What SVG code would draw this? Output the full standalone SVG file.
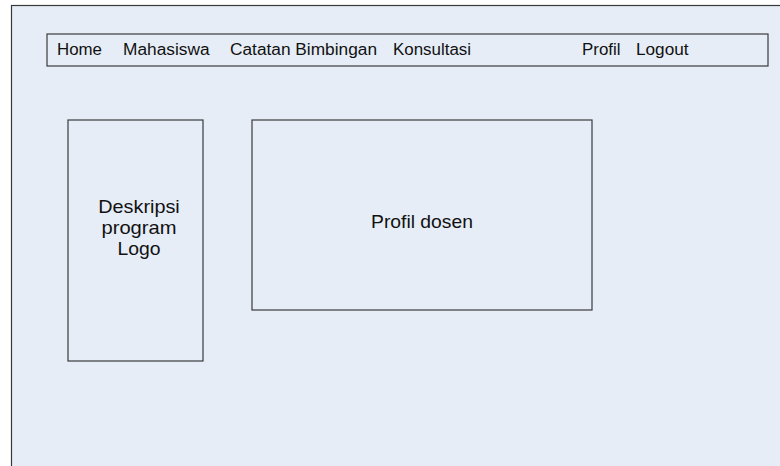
<svg xmlns="http://www.w3.org/2000/svg" width="780" height="466" viewBox="0 0 780 466">
  <style>
    .frame { fill: #E6EDF7; stroke: #3A3A3A; stroke-width: 1.2; }
    .box { fill: #E6EDF7; stroke: #3A3A3A; stroke-width: 1.2; }
    .nav { font-family: "Liberation Sans", Arial, sans-serif; font-size: 16px; fill: #111; }
    .label { font-family: "Liberation Sans", Arial, sans-serif; font-size: 18.5px; fill: #111; text-anchor: middle; }
  </style>
  <rect x="0" y="0" width="780" height="466" fill="#FFFFFF"/>
  <!-- page frame, running off the right and bottom edges -->
  <rect class="frame" x="11.5" y="5.5" width="790" height="480"/>

  <!-- navigation bar -->
  <g id="navbar">
    <rect class="box" x="47" y="34" width="721" height="32"/>
    <text class="nav" x="57" y="55" textLength="45" lengthAdjust="spacingAndGlyphs">Home</text>
    <text class="nav" x="123" y="55" textLength="86.5" lengthAdjust="spacingAndGlyphs">Mahasiswa</text>
    <text class="nav" x="230" y="55" textLength="147" lengthAdjust="spacingAndGlyphs">Catatan Bimbingan</text>
    <text class="nav" x="393" y="55" textLength="78" lengthAdjust="spacingAndGlyphs">Konsultasi</text>
    <text class="nav" x="582" y="55" textLength="38.5" lengthAdjust="spacingAndGlyphs">Profil</text>
    <text class="nav" x="636" y="55" textLength="52.5" lengthAdjust="spacingAndGlyphs">Logout</text>
  </g>

  <!-- left panel -->
  <g id="deskripsi">
    <rect class="box" x="68" y="120" width="135" height="241"/>
    <text class="label" x="139" y="213" textLength="81.5" lengthAdjust="spacingAndGlyphs">Deskripsi</text>
    <text class="label" x="139" y="234" textLength="75" lengthAdjust="spacingAndGlyphs">program</text>
    <text class="label" x="139" y="255" textLength="43" lengthAdjust="spacingAndGlyphs">Logo</text>
  </g>

  <!-- main panel -->
  <g id="profil-dosen">
    <rect class="box" x="252" y="120" width="340" height="190"/>
    <text class="label" x="422" y="228" textLength="102" lengthAdjust="spacingAndGlyphs">Profil dosen</text>
  </g>
</svg>
